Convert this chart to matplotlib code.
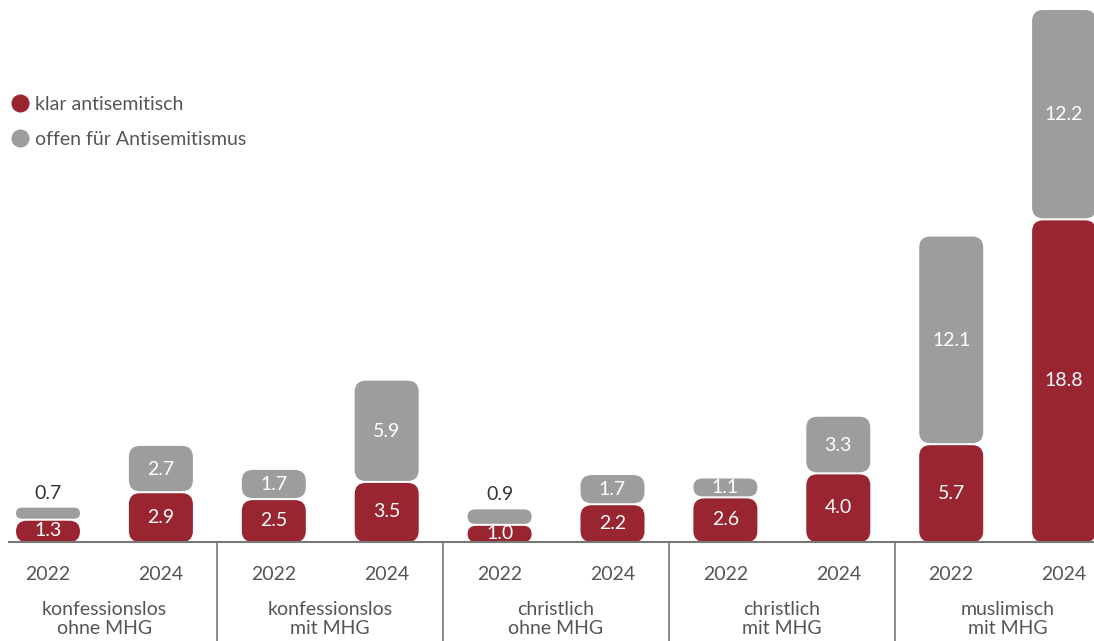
import matplotlib.pyplot as plt
from matplotlib.patches import FancyBboxPatch
from matplotlib.lines import Line2D
import numpy as np

plt.rcParams['font.family'] = ['Lato', 'DejaVu Sans']

groups = ["konfessionslos\nohne MHG", "konfessionslos\nmit MHG", "christlich\nohne MHG",
          "christlich\nmit MHG", "muslimisch\nmit MHG"]
years = ["2022", "2024"] * 5
klar = [1.3, 2.9, 2.5, 3.5, 1.0, 2.2, 2.6, 4.0, 5.7, 18.8]
offen = [0.7, 2.7, 1.7, 5.9, 0.9, 1.7, 1.1, 3.3, 12.1, 12.2]

red = "#982530"
grey = "#9d9d9c"
txt = "#555555"
fs = 14

W, H = 1094, 641
fig = plt.figure(figsize=(W / 100, H / 100), dpi=100)
ax = fig.add_axes([0, 0, 1, 1])

# pixel geometry of the reference
x0_px, step_px = 48, 112.9
base_px, top_px = 542, 10
ppu_x = step_px
ppu_y = (base_px - top_px) / 31.0
ax.set_xlim(-x0_px / ppu_x, (W - x0_px) / ppu_x)
ax.set_ylim(-(H - base_px) / ppu_y, base_px / ppu_y)
ax.axis("off")

x = np.arange(len(klar))
bw = 64 / ppu_x
radius_px = 11
gap = 1.0 / ppu_y
aspect = ppu_x / ppu_y


def rbar(xc, y0, y1, color):
    h = y1 - y0
    ry = min(radius_px / ppu_y, h / 2)
    rx = ry / aspect
    p = FancyBboxPatch((xc - bw / 2, y0), bw, h,
                       boxstyle=f"round,pad=0,rounding_size={rx}",
                       mutation_aspect=aspect, fc=color, ec="none", zorder=2)
    ax.add_patch(p)


for i in range(len(klar)):
    k, o = klar[i], offen[i]
    rbar(x[i], 0, k - gap, red)
    rbar(x[i], k + gap, k + o, grey)
    ax.text(x[i], k / 2, f"{k:.1f}", ha="center", va="center", color="white",
            fontsize=fs, zorder=3)
    if o < 1.0:
        ax.text(x[i], k + o + 0.85, f"{o:.1f}", ha="center", va="center",
                color="#333333", fontsize=fs, zorder=3)
    else:
        ax.text(x[i], k + o / 2, f"{o:.1f}", ha="center", va="center",
                color="white", fontsize=fs, zorder=3)
    ax.text(x[i], -33 / ppu_y, years[i], ha="center", va="center",
            color=txt, fontsize=fs)

for g in range(len(groups)):
    ax.text(2 * g + 0.5, -77 / ppu_y, groups[g], ha="center", va="center",
            color=txt, fontsize=fs, linespacing=1.08)

ax.plot([-40 / ppu_x, (W - x0_px) / ppu_x], [0, 0], color="#777777", lw=1.5,
        zorder=4, solid_capstyle="butt")
for s in [1.5, 3.5, 5.5, 7.5]:
    ax.plot([s, s], [0, -(H - base_px) / ppu_y], color="#777777", lw=1.2)

handles = [Line2D([], [], marker="o", ls="none", color=red, markersize=12),
           Line2D([], [], marker="o", ls="none", color=grey, markersize=12)]
leg = ax.legend(handles, ["klar antisemitisch", "offen für Antisemitismus"],
                loc="upper left", bbox_to_anchor=(0.0, 1 - 82 / H), frameon=False,
                fontsize=fs, handlelength=0.7, handletextpad=0.4, labelspacing=0.95,
                borderaxespad=0.3)
for t in leg.get_texts():
    t.set_color(txt)

fig.savefig("out.png", dpi=100)
